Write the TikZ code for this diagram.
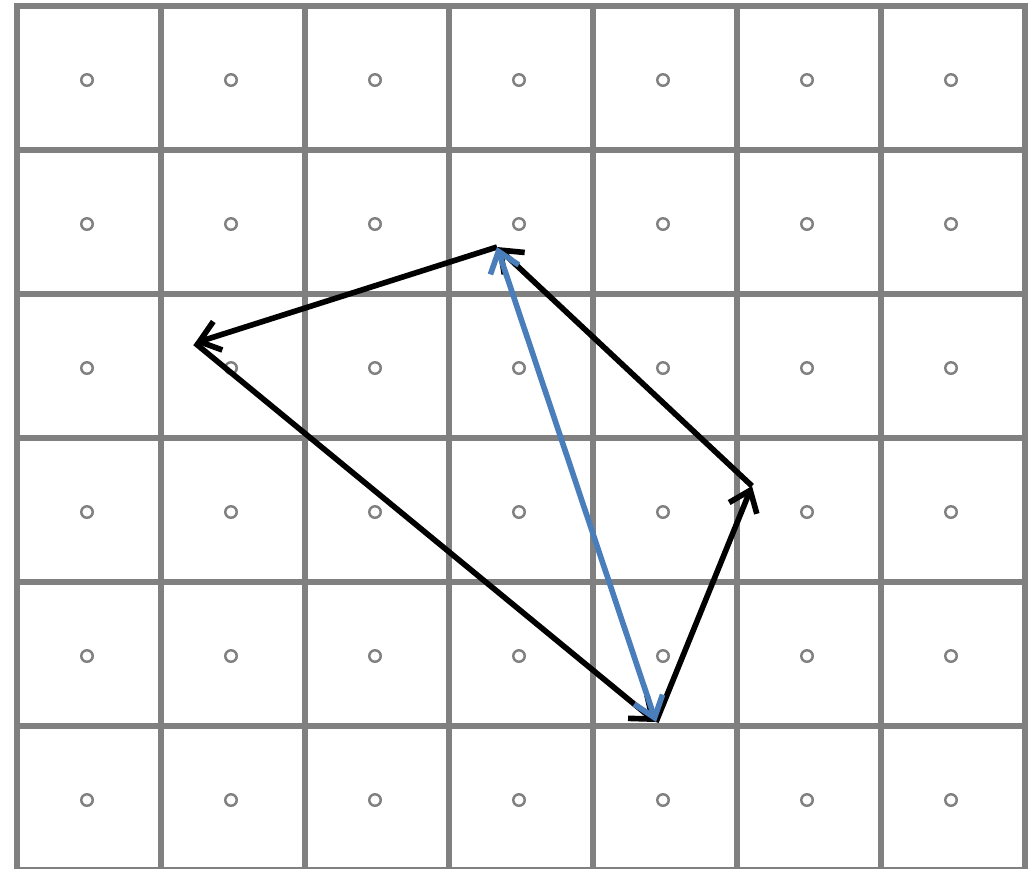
\documentclass[tikz,border=0pt]{standalone}
\usetikzlibrary{arrows.meta}
\definecolor{vecblue}{RGB}{74,126,187}

\begin{document}
\begin{tikzpicture}[
  x=0.2mm, y=-0.2mm,
  gridline/.style={draw=gray, line width=3.4pt, line cap=rect},
  dot/.style={draw=gray, line width=1.4pt},
  vec/.style={draw=black, line width=3.2pt, -{Straight Barb[length=11pt,width=17pt]}},
  diag/.style={draw=vecblue, line width=3.2pt,
    {Straight Barb[length=11pt,width=17pt]}-{Straight Barb[length=11pt,width=17pt]}},
]
  \useasboundingbox (0,0) rectangle (1029,868);

  % cells
  \foreach \c in {0,...,7} \draw[gridline] (17+144*\c,6) -- (17+144*\c,870);
  \foreach \r in {0,...,6} \draw[gridline] (17,6+144*\r) -- (1025,6+144*\r);

  % cell centres
  \foreach \c in {0,...,6}
    \foreach \r in {0,...,5}
      \draw[dot] (87+144*\c,80+144*\r) circle[radius=1.15mm];

  % corners of the quadrilateral
  \coordinate (pa) at (656,722);
  \coordinate (pb) at (752,486);
  \coordinate (pc) at (497,247);
  \coordinate (pd) at (195,343);

  \draw[vec] (pa) -- (pb);
  \draw[vec] (pb) -- (pc);
  \draw[vec] (pc) -- (pd);
  \draw[vec] (pd) -- (pa);

  % diagonal
  \draw[diag] (pc) -- (pa);
\end{tikzpicture}
\end{document}
